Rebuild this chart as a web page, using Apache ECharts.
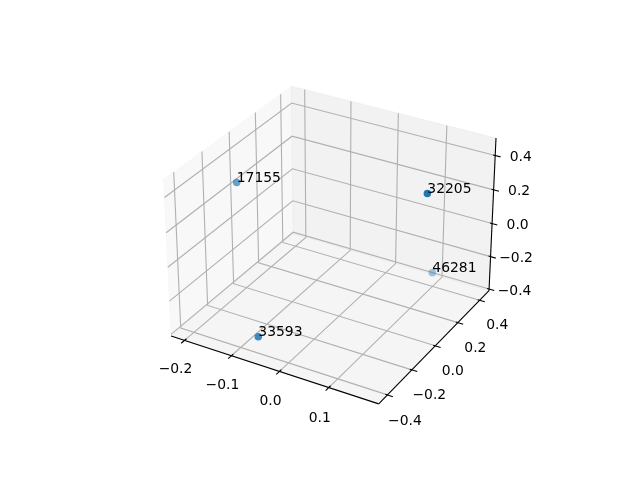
<!DOCTYPE html>
<html><head><meta charset="utf-8">
<style>html,body{margin:0;padding:0;background:#fff}#c{width:640px;height:480px}</style>
<script src="https://cdn.jsdelivr.net/npm/echarts@6/dist/echarts.min.js"></script>
</head><body><div id="c"></div>
<script>
const pointLabels = ['17155', '32205', '33593', '46281'];
const xValues = [-0.2, 0.168, -0.051, 0.0877];
const yValues = [-0.054, 0.03, -0.44, 0.45];
const zValues = [0.259, 0.43, -0.272, -0.369];
const pointAlpha = [0.68, 1, 0.86, 0.4];
const xTicks = [-0.2, -0.1, 0.0, 0.1];
const yTicks = [-0.4, -0.2, 0.0, 0.2, 0.4];
const zTicks = [-0.4, -0.2, 0.0, 0.2, 0.4];
const xLim = [-0.229, 0.199];
const yLim = [-0.47, 0.488];
const zLim = [-0.41, 0.5];

// matplotlib-style 3D projection (elev 30, azim -60)
const box = [4, 4, 3].map(v => v * 1.8294640721620434 * 25 / 24 / Math.sqrt(41));
const dist = 10, el = 30 * Math.PI / 180, az = -60 * Math.PI / 180;
const w = [Math.cos(el) * Math.cos(az), Math.cos(el) * Math.sin(az), Math.sin(el)];
const R = box.map(v => v / 2);
const eye = R.map((v, i) => v + dist * w[i]);
const norm = a => { const n = Math.hypot(...a); return a.map(v => v / n); };
const cross = (a, b) => [a[1]*b[2]-a[2]*b[1], a[2]*b[0]-a[0]*b[2], a[0]*b[1]-a[1]*b[0]];
const dot = (a, b) => a[0]*b[0]+a[1]*b[1]+a[2]*b[2];
const u = norm(cross([0, 0, 1], w));
const v = cross(w, u);
function proj(x, y, z) {
  const p = [(x-xLim[0])/(xLim[1]-xLim[0])*box[0], (y-yLim[0])/(yLim[1]-yLim[0])*box[1], (z-zLim[0])/(zLim[1]-zLim[0])*box[2]];
  const d = p.map((c, i) => c - eye[i]);
  const zv = -dot(w, d);
  const xp = dot(u, d) / zv, yp = dot(v, d) / zv;
  const ax = 143.2, ay = 52.8, s = 369.6;
  return [ax + (xp + 0.095) / 0.185 * s, 480 - (ay + (yp + 0.095) / 0.185 * s)];
}
const [x0, x1] = xLim, [y0, y1] = yLim, [z0, z1] = zLim;

const panes = [
  { color: 'rgba(242,242,242,0.5)', pts: [[x0,y0,z0],[x0,y1,z0],[x0,y1,z1],[x0,y0,z1]] },
  { color: 'rgba(230,230,230,0.5)', pts: [[x0,y1,z0],[x1,y1,z0],[x1,y1,z1],[x0,y1,z1]] },
  { color: 'rgba(236,236,236,0.5)', pts: [[x0,y0,z0],[x1,y0,z0],[x1,y1,z0],[x0,y1,z0]] }
];
const gridPaths = [
  ...xTicks.map(t => [[t,y0,z0],[t,y1,z0],[t,y1,z1]]),
  ...yTicks.map(t => [[x1,t,z0],[x0,t,z0],[x0,t,z1]]),
  ...zTicks.map(t => [[x0,y0,t],[x0,y1,t],[x1,y1,t]])
];
const axisPaths = [
  [[x0,y0,z0],[x1,y0,z0]],
  [[x1,y0,z0],[x1,y1,z0]],
  [[x1,y1,z0],[x1,y1,z1]]
];
const dx = x1-x0, dy = y1-y0;
const tickPaths = [
  ...xTicks.map(t => [[t,y0+dy*0.015,z0],[t,y0-dy*0.025,z0]]),
  ...yTicks.map(t => [[x1-dx*0.01,t,z0],[x1+dx*0.025,t,z0]]),
  ...zTicks.map(t => [[x1-dx*0.01,y1,t],[x1+dx*0.025,y1,t]])
];
const fmt = t => (t < 0 ? '\u2212' : '') + Math.abs(t).toFixed(1);
const tickTexts = [
  ...xTicks.map(t => { const p = proj(t,y0,z0); return [p[0]-9, p[1]+29+(p[0]-183)*0.014, fmt(t)]; }),
  ...yTicks.map(t => { const p = proj(x1,t,z0); return [p[0]+17.5, p[1]+26-(p[0]-388)*0.01, fmt(t)]; }),
  ...zTicks.map(t => { const p = proj(x1,y1,t); return [p[0]+25.5, p[1]+2, fmt(t)]; })
];
const font = '13.9px "DejaVu Sans"';

function pathSeries(paths, color, width, z) {
  return {
    type: 'custom', coordinateSystem: 'cartesian2d', silent: true, z, clip: false,
    data: paths.map((_, i) => [i, 0]),
    encode: { x: 0, y: 1 },
    renderItem: (params, api) => ({
      type: 'polyline',
      shape: { points: paths[api.value(0)].map(p => api.coord(proj(...p))) },
      style: { stroke: color, lineWidth: width, fill: 'none', lineJoin: 'miter' }
    })
  };
}
function textSeries(rows, z, align, vAlign) {
  return {
    type: 'custom', coordinateSystem: 'cartesian2d', silent: true, z, clip: false,
    data: rows.map((r, i) => [i, 0]),
    encode: { x: 0, y: 1 },
    renderItem: (params, api) => {
      const r = rows[api.value(0)];
      const c = api.coord([r[0], r[1]]);
      return { type: 'text', style: { x: c[0], y: c[1], text: r[2], font, fill: '#000', align, verticalAlign: vAlign } };
    }
  };
}

const chart = echarts.init(document.getElementById('c'), null, { renderer: 'canvas' });
chart.setOption({
  animation: false,
  backgroundColor: '#fff',
  grid: { left: 0, right: 0, top: 0, bottom: 0 },
  xAxis: { type: 'value', min: 0, max: 640, show: false },
  yAxis: { type: 'value', min: 0, max: 480, inverse: true, show: false },
  tooltip: { show: false },
  series: [
    {
      type: 'custom', coordinateSystem: 'cartesian2d', silent: true, z: 1, clip: false,
      data: panes.map((_, i) => [i, 0]), encode: { x: 0, y: 1 },
      renderItem: (params, api) => {
        const pn = panes[api.value(0)];
        return { type: 'polygon', shape: { points: pn.pts.map(p => api.coord(proj(...p))) }, style: { fill: pn.color, stroke: pn.color, lineWidth: 0.8 } };
      }
    },
    pathSeries(gridPaths, '#b0b0b0', 1.1, 2),
    pathSeries(axisPaths, '#000', 1.1, 3),
    pathSeries(tickPaths, '#000', 1.1, 3),
    textSeries(tickTexts, 4, 'center', 'middle'),
    {
      type: 'scatter', z: 5, symbol: 'circle', symbolSize: 7.5, silent: true,
      data: pointLabels.map((n, i) => ({
        name: n, value: proj(xValues[i], yValues[i], zValues[i]),
        itemStyle: { color: '#1f77b4', opacity: pointAlpha[i] }
      }))
    },
    textSeries(pointLabels.map((n, i) => { const p = proj(xValues[i], yValues[i], zValues[i]); return [p[0], p[1] + 3, n]; }), 6, 'left', 'bottom')
  ]
});
</script></body></html>
